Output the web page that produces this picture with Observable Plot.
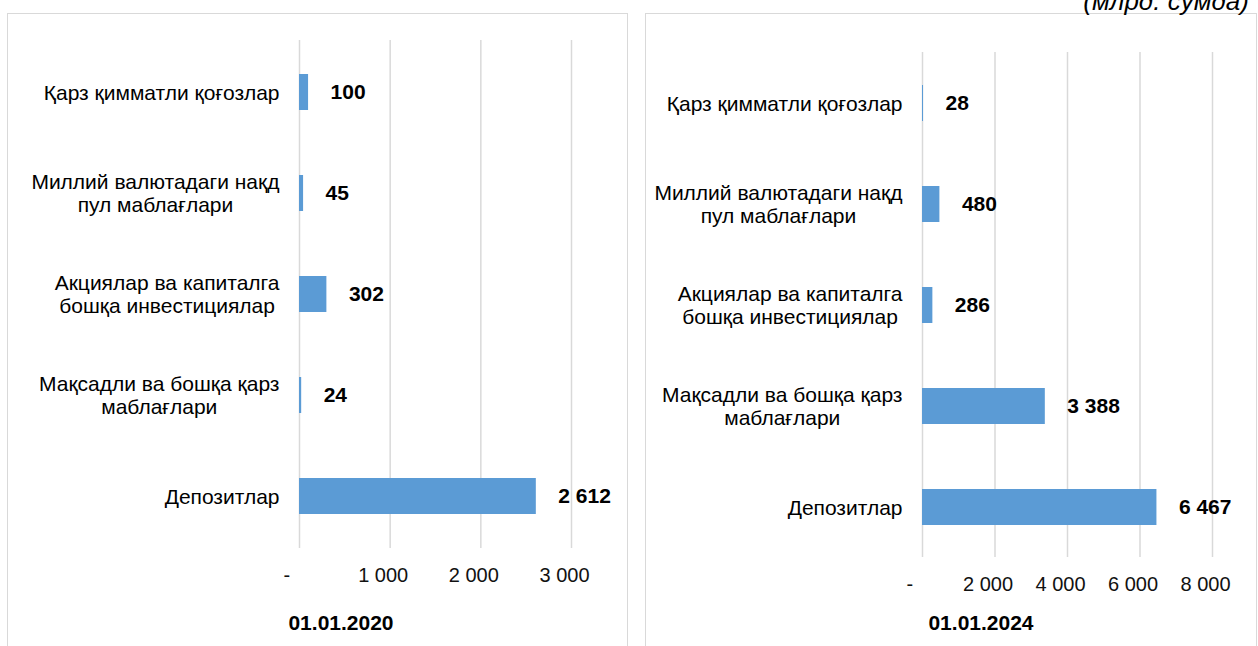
<!DOCTYPE html>
<html>
<head>
<meta charset="utf-8">
<script src="https://cdn.jsdelivr.net/npm/d3@7"></script>
<script src="https://cdn.jsdelivr.net/npm/@observablehq/plot@0.6"></script>
<style>
  html, body { margin: 0; padding: 0; background: #fff; }
  #wrap { position: relative; width: 1258px; height: 646px; overflow: hidden; font-family: "Liberation Sans", Arial, sans-serif; }
  .panel { position: absolute; border: 1.5px solid #d9d9d9; box-sizing: border-box; }
  .chart { position: absolute; top: 0; }
  .title { position: absolute; width: 200px; text-align: center; font-weight: bold; font-size: 21px; line-height: 21px; color: #000; }
  .units { position: absolute; right: 9px; top: -12px; font-style: italic; font-size: 26px; line-height: 26px; color: #000; white-space: nowrap; }
</style>
</head>
<body>
<div id="wrap">
  <div class="panel" style="left:7px; top:13px; width:621px; height:700px;"></div>
  <div class="panel" style="left:645px; top:13px; width:612px; height:700px;"></div>
  <div class="chart" id="left" style="left:0px;"></div>
  <div class="chart" id="right" style="left:640px;"></div>
  <div class="title" id="t1" style="left:241px; top:612px;"></div>
  <div class="title" id="t2" style="left:881px; top:612px;"></div>
  <div class="units" id="units"></div>
</div>
<script>
// ---- data ----
const categories = [
  "Қарз қимматли қоғозлар",
  "Миллий валютадаги нақд\nпул маблағлари",
  "Акциялар ва капиталга\nбошқа инвестициялар",
  "Мақсадли ва бошқа қарз\nмаблағлари",
  "Депозитлар"
];
const values2020 = [100, 45, 302, 24, 2612];
const values2024 = [28, 480, 286, 3388, 6467];
const ticks2020 = [0, 1000, 2000, 3000];
const ticks2024 = [0, 2000, 4000, 6000, 8000];
const panelTitles = ["01.01.2020", "01.01.2024"];
const unitsText = "(млрд. сўмда)";

const FONT = "'Liberation Sans', Arial, sans-serif";
const BAR = "#5B9BD5";
const GRID = "#d9d9d9";
const fmt = d3.formatLocale({decimal: ",", thousands: "\u00a0", grouping: [3], currency: ["", ""]}).format(",d");
const tickFmt = d => d === 0 ? "-\u00a0\u00a0" : fmt(d);

function makeChart(values, ticks, xmax, opts) {
  const rows = categories.map((c, i) => ({cat: c, value: values[i]}));
  return Plot.plot({
    width: opts.width,
    height: 646,
    marginLeft: opts.ml,
    marginRight: opts.mr,
    marginTop: opts.mt,
    marginBottom: opts.mb,
    style: {fontFamily: FONT, fontSize: "20px", color: "#000", background: "transparent", overflow: "visible"},
    x: {domain: [0, xmax], axis: null},
    y: {domain: categories, axis: null, paddingInner: 0.646, paddingOuter: 0.323},
    marks: [
      Plot.gridX(ticks, {stroke: GRID, strokeOpacity: 1, strokeWidth: 1.5}),
      Plot.axisX(ticks, {anchor: "bottom", tickSize: 0, tickPadding: 19, tickFormat: tickFmt, dx: -7, fontSize: 20, label: null, fill: "#111"}),
      Plot.barX(rows, {x: "value", y: "cat", fill: BAR}),
      Plot.text(rows, {x: "value", y: "cat", text: d => fmt(d.value), textAnchor: "start", dx: 22, fontWeight: "bold", fontSize: 21, fill: "#000"}),
      Plot.text(categories, {y: d => d, text: d => d, frameAnchor: "left", textAnchor: "end", dx: -20, fontSize: 21, lineHeight: 1.1, fill: "#000"})
    ]
  });
}

function centerMultiline(svg) {
  svg.querySelectorAll("text").forEach(t => {
    const spans = t.querySelectorAll("tspan");
    if (spans.length < 2) return;
    let maxW = 0;
    spans.forEach(s => { maxW = Math.max(maxW, s.getComputedTextLength()); });
    t.setAttribute("text-anchor", "middle");
    spans.forEach(s => s.setAttribute("x", -maxW / 2));
  });
}

const c1 = makeChart(values2020, ticks2020, 3000, {width: 640, ml: 299, mr: 69, mt: 40, mb: 98});
const c2 = makeChart(values2024, ticks2024, 8000, {width: 618, ml: 282, mr: 46, mt: 52, mb: 89});
document.getElementById("left").appendChild(c1);
document.getElementById("right").appendChild(c2);
centerMultiline(c1);
centerMultiline(c2);
document.getElementById("t1").textContent = panelTitles[0];
document.getElementById("t2").textContent = panelTitles[1];
document.getElementById("units").textContent = unitsText;
</script>
</body>
</html>
